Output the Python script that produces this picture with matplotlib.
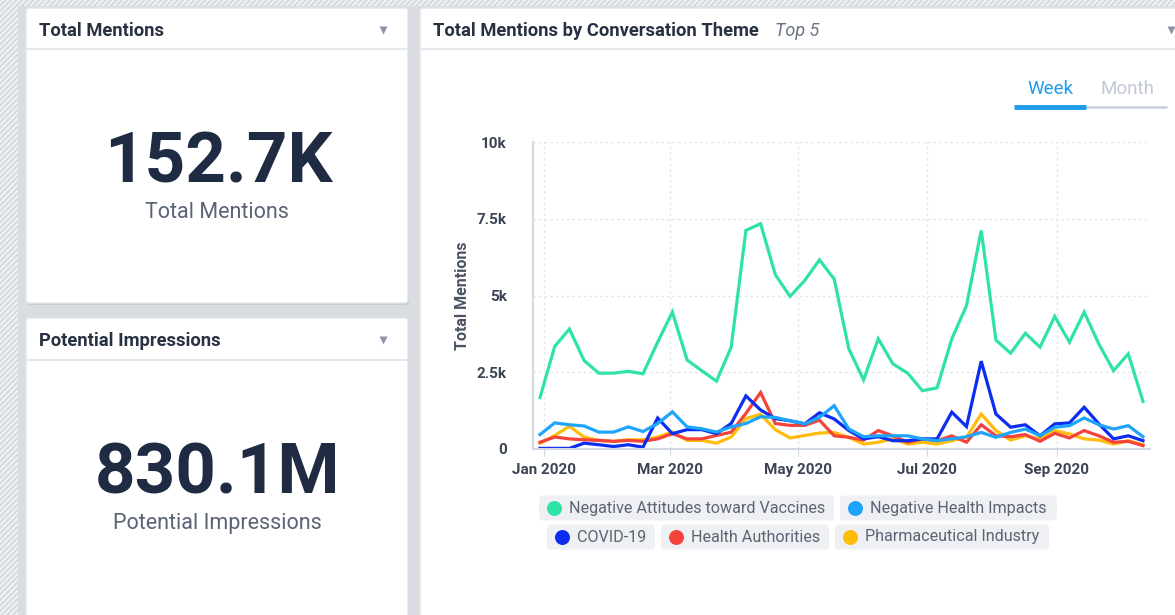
import matplotlib.pyplot as plt
import matplotlib.dates as mdates
from matplotlib.patches import FancyBboxPatch, Rectangle
import pandas as pd

plt.rcParams['font.family'] = ['Roboto', 'DejaVu Sans']
plt.rcParams['hatch.linewidth'] = 1.0

# weekly buckets (week starting)
weeks = pd.date_range('2019-12-30', periods=42, freq='7D')

neg_attitudes = [1680, 3340, 3910, 2880, 2470, 2470, 2530, 2450, 3480, 4460,
                 2900, 2550, 2210, 3320, 7120, 7340, 5680, 4970, 5490, 6160,
                 5540, 3260, 2250, 3590, 2770, 2470, 1900, 1990, 3590, 4670,
                 7120, 3550, 3120, 3770, 3320, 4320, 3480, 4460, 3420, 2550,
                 3100, 1550]
neg_health = [470, 850, 790, 750, 550, 550, 720, 570, 830, 1210,
              720, 660, 550, 720, 830, 1050, 1030, 920, 820, 1030,
              1410, 650, 400, 430, 430, 430, 330, 270, 330, 400,
              540, 380, 540, 650, 430, 710, 760, 1010, 790, 650,
              760, 400]
covid = [20, 20, 20, 190, 140, 80, 140, 60, 1010, 500,
         630, 630, 500, 830, 1730, 1270, 990, 920, 820, 1180,
         980, 600, 330, 400, 270, 270, 330, 330, 1200, 730,
         2860, 1140, 710, 790, 430, 820, 850, 1360, 820, 330,
         430, 270]
health_auth = [220, 390, 330, 300, 280, 250, 280, 250, 330, 500,
               330, 330, 440, 550, 1160, 1840, 830, 770, 770, 940,
               430, 380, 290, 600, 430, 220, 330, 270, 430, 220,
               790, 430, 400, 470, 250, 510, 360, 600, 430, 220,
               250, 110]
pharma = [190, 440, 740, 390, 280, 250, 300, 300, 390, 550,
          280, 280, 190, 390, 990, 1130, 630, 360, 440, 520,
          540, 380, 160, 220, 330, 160, 220, 160, 270, 380,
          1140, 600, 290, 430, 330, 600, 490, 330, 290, 160,
          270, 140]

series_names = ['Negative Attitudes toward Vaccines', 'Negative Health Impacts',
                'COVID-19', 'Health Authorities', 'Pharmaceutical Industry']
series_colors = ['#2fe3a5', '#1ea4fb', '#0b2df2', '#f4433c', '#ffbd0a']
series_data = [neg_attitudes, neg_health, covid, health_auth, pharma]

kpi_values = ['152.7K', '830.1M']
kpi_labels = ['Total Mentions', 'Potential Impressions']

y_ticks = [0, 2500, 5000, 7500, 10000]
y_ticklabels = ['0', '2.5k', '5k', '7.5k', '10k']

W, H = 1175, 615
fig = plt.figure(figsize=(W / 100, H / 100), dpi=100)
fig.patch.set_facecolor('#d9dde2')

# background layer in pixel coordinates
bg = fig.add_axes([0, 0, 1, 1])
bg.set_xlim(0, W)
bg.set_ylim(H, 0)
bg.axis('off')

bg.add_patch(Rectangle((0, 0), 18, H, facecolor='#eef0f2', edgecolor='#d0d4d9',
                       hatch='//////', lw=0))
bg.add_patch(Rectangle((0, 0), W, 6, facecolor='#eef0f2', edgecolor='#d0d4d9',
                       hatch='//////', lw=0))


def panel(x0, y0, x1, y1, header_y):
    bg.add_patch(FancyBboxPatch((x0 + 1, y0 + 2), x1 - x0, y1 - y0,
                                boxstyle='round,pad=0,rounding_size=3',
                                facecolor='#c6cbd2', edgecolor='none'))
    bg.add_patch(FancyBboxPatch((x0, y0), x1 - x0, y1 - y0,
                                boxstyle='round,pad=0,rounding_size=3',
                                facecolor='white', edgecolor='#e2e5ea', lw=1))
    bg.plot([x0, x1], [header_y, header_y], color='#e4e7ec', lw=1.5)


panel(26, 8, 408, 303, 49)
panel(26, 318, 408, 650, 360)
panel(420, 8, 1190, 650, 49)

title_kw = dict(fontsize=13.2, fontweight='bold', color='#283142', va='center')
bg.text(39, 31, 'Total Mentions', **title_kw)
bg.text(39, 341, 'Potential Impressions', **title_kw)
bg.text(433, 31, 'Total Mentions by Conversation Theme', **title_kw)
bg.text(775, 31, 'Top 5', fontsize=13, style='italic', color='#6b7383', va='center')

for tx, ty in [(383, 30), (383, 340), (1171, 30)]:
    bg.plot(tx, ty, marker='v', ms=6, color='#8c94a8', mec='none')

# KPI tiles
for cy, val, lab in zip([163, 474], kpi_values, kpi_labels):
    bg.text(218, cy, val, fontsize=51, fontweight='bold', color='#1e2b43',
            ha='center', va='center')
    bg.text(217, cy + 50, lab, fontsize=15.5, color='#5a6374', ha='center', va='center')

# Week / Month toggle
bg.text(1050, 89, 'Week', fontsize=13.5, color='#1e9bf0', ha='center', va='center')
bg.text(1127, 89, 'Month', fontsize=13.5, color='#c2c8d5', ha='center', va='center')
bg.plot([1086, 1167], [107, 107], color='#c9cfdb', lw=1.8, solid_capstyle='butt')
bg.plot([1014, 1086], [107, 107], color='#1e9bf0', lw=3.5, solid_capstyle='butt')

# legend chips
chips = [(539, 834, 508), (840, 1057, 508), (547, 655, 537), (661, 829, 537), (835, 1049, 537)]
for (cx0, cx1, cy), name, col in zip(chips, series_names, series_colors):
    bg.add_patch(FancyBboxPatch((cx0, cy - 12.5), cx1 - cx0, 25,
                                boxstyle='round,pad=0,rounding_size=4',
                                facecolor='#eef0f3', edgecolor='none'))
    bg.scatter([cx0 + 15], [cy], s=95, color=col, zorder=3)
    bg.text(cx0 + 30, cy, name, fontsize=11.6, color='#5b6373', va='center', ha='left')

# line chart
ax = fig.add_axes([533 / W, 1 - 449 / H, (1150 - 533) / W, (449 - 142) / H])
ax.set_facecolor('none')
for name, col, vals in zip(series_names[::-1], series_colors[::-1], series_data[::-1]):
    ax.plot(weeks, vals, color=col, lw=2.3, label=name, solid_joinstyle='miter')

ax.set_xlim(pd.Timestamp('2019-12-26 16:00'), pd.Timestamp('2020-10-15 08:00'))
ax.set_ylim(0, 10000)
ax.set_yticks(y_ticks)
ax.set_yticklabels(y_ticklabels)
ax.xaxis.set_major_locator(mdates.MonthLocator(bymonth=[1, 3, 5, 7, 9]))
ax.xaxis.set_major_formatter(mdates.DateFormatter('%b %Y'))
ax.grid(True, color='#e3e7ed', lw=1, linestyle=(0, (2, 2)))
ax.set_axisbelow(True)
for s in ['top', 'right']:
    ax.spines[s].set_visible(False)
for s in ['left', 'bottom']:
    ax.spines[s].set_color('#d3d9e4')
    ax.spines[s].set_linewidth(1.5)
ax.tick_params(axis='y', length=0, pad=19, labelsize=11, labelcolor='#3b4455')
ax.tick_params(axis='x', length=5, color='#d3d9e4', pad=5, labelsize=11, labelcolor='#3b4455')
for lbl in ax.get_xticklabels() + ax.get_yticklabels():
    lbl.set_fontweight('bold')
ax.set_ylabel('Total Mentions', fontsize=11.5, fontweight='bold', color='#4a5263', labelpad=5)

fig.savefig('out.png', dpi=100, facecolor=fig.get_facecolor())
